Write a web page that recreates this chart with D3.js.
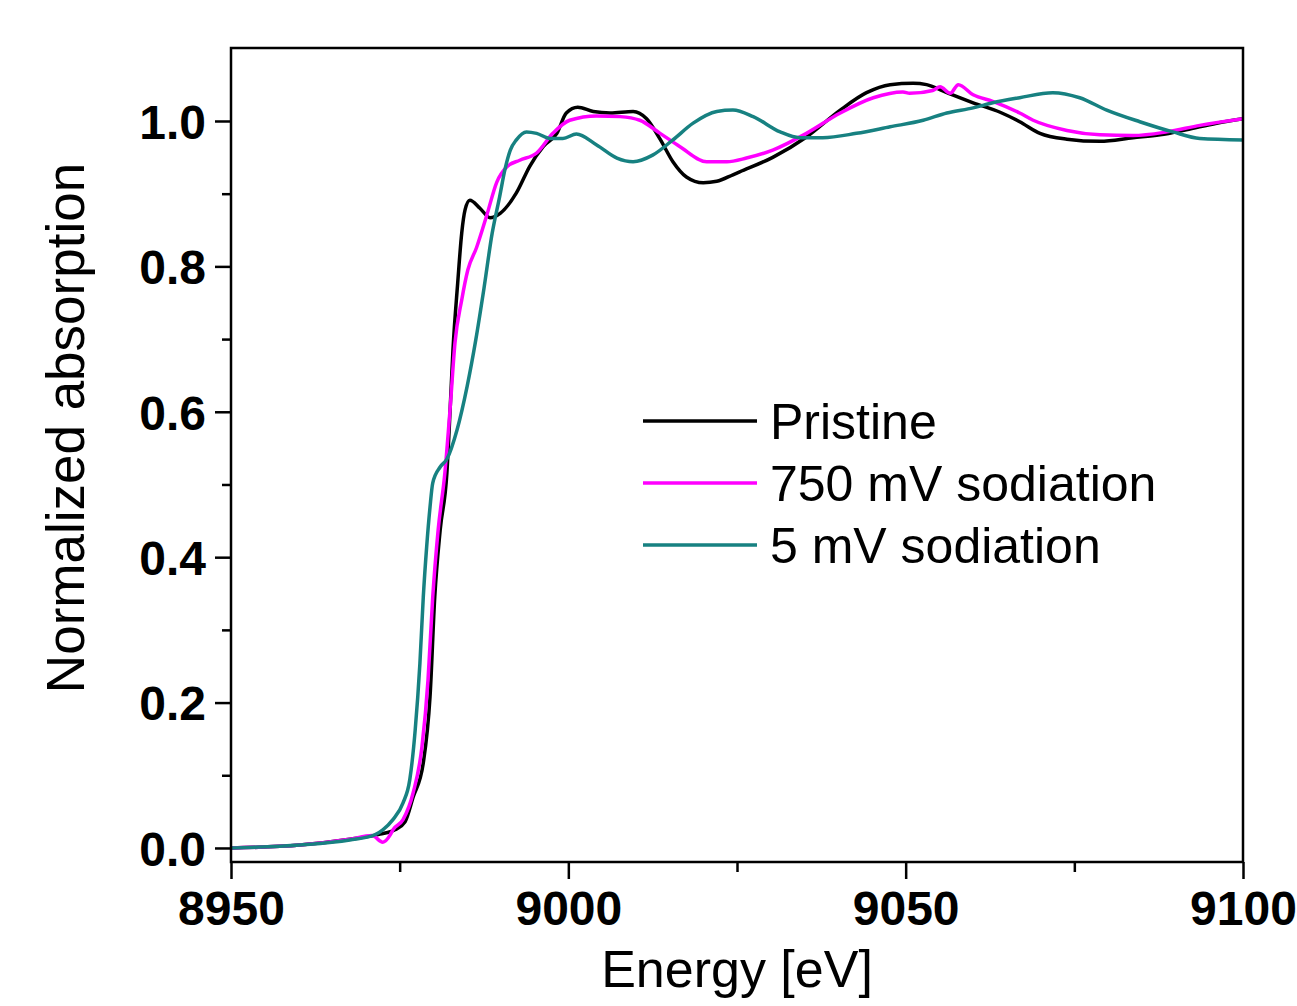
<!DOCTYPE html>
<html>
<head>
<meta charset="utf-8">
<script src="https://cdn.jsdelivr.net/npm/d3@7"></script>
<style>
  body { margin: 0; background: #fff; }
  text { font-family: "Liberation Sans", Arial, sans-serif; }
</style>
</head>
<body>
<svg width="1297" height="1006"></svg>
<script>
const svg_width = 1297;
const svg_height = 1006;

// series values, [energy eV, normalized absorption]
const pristine = [
  [8950, 0.000], [8960.2, 0.004], [8967.6, 0.012], [8972.1, 0.019], [8974.3, 0.025],
  [8975.8, 0.036], [8977.0, 0.070], [8978.5, 0.117], [8979.5, 0.208], [8980.2, 0.345],
  [8981.0, 0.437], [8982.0, 0.516], [8982.5, 0.607], [8982.9, 0.685], [8983.6, 0.777],
  [8984.2, 0.846], [8984.7, 0.878], [8985.4, 0.891], [8986.9, 0.880], [8988.4, 0.867],
  [8989.9, 0.873], [8992.3, 0.901], [8994.3, 0.938], [8996.3, 0.965], [8998.3, 0.983],
  [8999.7, 1.011], [9001.4, 1.019], [9003.7, 1.013], [9006.2, 1.011], [9009.6, 1.013],
  [9011.6, 1.003], [9013.6, 0.975], [9015.5, 0.944], [9017.5, 0.923], [9020.0, 0.915],
  [9022.0, 0.917], [9024.4, 0.926], [9025.4, 0.930], [9030.3, 0.950], [9035.3, 0.978],
  [9040.3, 1.015], [9044.2, 1.039], [9047.7, 1.050], [9051.1, 1.052], [9053.1, 1.050],
  [9056.1, 1.039], [9060.0, 1.025], [9064.0, 1.012], [9066.9, 0.999], [9069.9, 0.983],
  [9073.9, 0.975], [9078.8, 0.972], [9083.7, 0.977], [9087.7, 0.981], [9091.6, 0.988],
  [9096.1, 0.997], [9100, 1.003]
];

const sodiation_750 = [
  [8950, 0.000], [8960.2, 0.004], [8967.6, 0.012], [8970.9, 0.017], [8972.5, 0.008],
  [8973.6, 0.018], [8974.0, 0.025], [8975.5, 0.039], [8977.0, 0.076], [8978.3, 0.139],
  [8979.2, 0.231], [8979.9, 0.345], [8980.7, 0.437], [8981.7, 0.516], [8982.5, 0.607],
  [8983.2, 0.695], [8984.2, 0.754], [8985.1, 0.795], [8986.4, 0.826], [8987.9, 0.870],
  [8989.4, 0.916], [8990.9, 0.937], [8992.8, 0.946], [8995.3, 0.956], [8997.7, 0.983],
  [9000.2, 1.001], [9004.2, 1.007], [9007.7, 1.006], [9010.6, 1.001], [9013.6, 0.983],
  [9016.5, 0.965], [9020.5, 0.944], [9023.5, 0.944], [9026.4, 0.949], [9030.3, 0.960],
  [9035.3, 0.983], [9040.3, 1.011], [9045.2, 1.032], [9049.6, 1.040], [9050.6, 1.038],
  [9054.0, 1.042], [9055.1, 1.047], [9056.6, 1.038], [9057.8, 1.050], [9060.0, 1.036],
  [9062.9, 1.027], [9066.9, 1.011], [9068.9, 1.001], [9073.9, 0.987], [9078.8, 0.981],
  [9083.7, 0.980], [9088.7, 0.985], [9093.6, 0.994], [9100, 1.003]
];

const sodiation_5 = [
  [8950, 0.000], [8960.2, 0.004], [8967.6, 0.011], [8971.3, 0.018], [8972.5, 0.025],
  [8974.0, 0.039], [8975.5, 0.062], [8976.5, 0.094], [8977.3, 0.162], [8978.0, 0.254],
  [8978.5, 0.345], [8979.0, 0.414], [8979.5, 0.469], [8979.9, 0.502], [8981.0, 0.524],
  [8982.0, 0.535], [8983.5, 0.575], [8985.0, 0.635], [8986.3, 0.700], [8987.5, 0.770],
  [8988.7, 0.845], [8989.8, 0.895], [8990.6, 0.933], [8991.4, 0.960],
  [8992.3, 0.974], [8993.8, 0.985], [8995.3, 0.983], [8997.3, 0.976], [8999.2, 0.976],
  [9001.2, 0.982], [9004.2, 0.967], [9007.2, 0.949], [9009.6, 0.944], [9012.5, 0.953],
  [9015.5, 0.974], [9018.5, 0.997], [9022.0, 1.013], [9024.4, 1.015], [9027.4, 1.006],
  [9031.4, 0.985], [9034.3, 0.977], [9037.7, 0.977], [9042.7, 0.983], [9047.7, 0.992],
  [9052.6, 1.001], [9056.1, 1.011], [9060.0, 1.018], [9062.9, 1.025], [9066.9, 1.032],
  [9071.8, 1.039], [9075.8, 1.032], [9079.8, 1.015], [9084.7, 0.999], [9089.6, 0.985],
  [9093.6, 0.976], [9100, 0.974]
];

const series_names = ["Pristine", "750 mV sodiation", "5 mV sodiation"];
const series_values = [pristine, sodiation_750, sodiation_5];
const series_colors = ["#000000", "#ff00ff", "#178181"];

const x_ticks = [8950, 9000, 9050, 9100];
const x_minor_ticks = [8975, 9025, 9075];
const y_ticks = [0.0, 0.2, 0.4, 0.6, 0.8, 1.0];
const y_minor_ticks = [0.1, 0.3, 0.5, 0.7, 0.9];

const margin = { top: 48, right: 54, bottom: 144, left: 231 };
const plot_w = svg_width - margin.left - margin.right;
const plot_h = svg_height - margin.top - margin.bottom;

var x = d3.scaleLinear().domain([8950, 9100]).range([0, plot_w]);
var y = d3.scaleLinear().domain([-0.0193, 1.1004]).range([plot_h, 0]);

function drawAxes(g) {
  // major ticks stick out 16px, minor ones 9px
  var x_axis = g.append("g").attr("transform", `translate(0,${plot_h})`);
  x_axis.call(d3.axisBottom(x).tickValues(x_ticks).tickSize(17).tickPadding(12).tickFormat(d3.format("d")));
  x_axis.append("g").call(d3.axisBottom(x).tickValues(x_minor_ticks).tickSize(10).tickFormat(""));

  var y_axis = g.append("g");
  y_axis.call(d3.axisLeft(y).tickValues(y_ticks).tickSize(16).tickPadding(9).tickFormat(d3.format(".1f")));
  y_axis.append("g").call(d3.axisLeft(y).tickValues(y_minor_ticks).tickSize(9).tickFormat(""));

  g.selectAll(".domain").remove();
  g.selectAll(".tick line").attr("stroke", "#000").attr("stroke-width", 2.5);
  g.selectAll(".tick text")
    .attr("fill", "#000")
    .attr("font-size", "48px")
    .attr("font-weight", "bold")
    .attr("font-family", "'Liberation Sans', Arial, sans-serif");
  x_axis.selectAll(".tick text").attr("dy", "0.71em");
  y_axis.selectAll(".tick text").attr("dy", "0.36em");

  // box round the plot
  g.append("rect")
    .attr("width", plot_w)
    .attr("height", plot_h)
    .attr("fill", "none")
    .attr("stroke", "#000")
    .attr("stroke-width", 2.5);
}

function drawLines(g) {
  g.append("clipPath").attr("id", "plot-clip")
    .append("rect").attr("width", plot_w).attr("height", plot_h);

  var line = d3.line()
    .x(d => x(d[0]))
    .y(d => y(d[1]))
    .curve(d3.curveMonotoneX);

  g.append("g")
    .attr("clip-path", "url(#plot-clip)")
    .selectAll("path")
    .data(series_values)
    .join("path")
    .attr("fill", "none")
    .attr("stroke", (d, i) => series_colors[i])
    .attr("stroke-width", 3.5)
    .attr("stroke-linejoin", "round")
    .attr("d", line);
}

function drawLegend(svg) {
  var legend = svg.append("g").attr("transform", "translate(643,421)");
  var row = legend.selectAll("g").data(series_names).join("g")
    .attr("transform", (d, i) => `translate(0,${i * 62})`);
  row.append("line")
    .attr("x1", 0).attr("x2", 114)
    .attr("stroke", (d, i) => series_colors[i])
    .attr("stroke-width", 3.5);
  row.append("text")
    .attr("x", 127)
    .attr("dy", "0.36em")
    .attr("font-size", "50px")
    .text(d => d);
}

function drawTitles(svg) {
  svg.append("text")
    .attr("x", margin.left + plot_w / 2)
    .attr("y", 987)
    .attr("text-anchor", "middle")
    .attr("font-size", "52px")
    .text("Energy [eV]");

  svg.append("text")
    .attr("transform", "translate(84,428) rotate(-90)")
    .attr("text-anchor", "middle")
    .attr("font-size", "53px")
    .text("Normalized absorption");
}

var svg = d3.select("svg");
var g = svg.append("g").attr("transform", `translate(${margin.left},${margin.top})`);
drawLines(g);
drawAxes(g);
drawLegend(svg);
drawTitles(svg);
</script>
</body>
</html>
